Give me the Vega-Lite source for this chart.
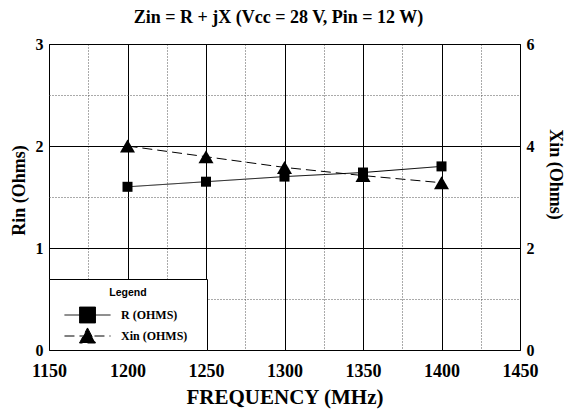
{
  "$schema": "https://vega.github.io/schema/vega-lite/v6.json",
  "autosize": {"type": "none"},
  "padding": {"left": 49, "top": 44, "right": 52, "bottom": 61},
  "width": 471,
  "height": 306,
  "background": "white",
  "title": {"text": "Zin = R + jX (Vcc = 28 V, Pin = 12 W)", "font": "Liberation Serif", "fontSize": 18, "fontWeight": "bold", "color": "black", "baseline": "alphabetic", "offset": 19, "dx": -6, "dy": 24, "anchor": "middle", "frame": "group"},
  "config": {
    "view": {"stroke": "black", "strokeWidth": 1},
    "axis": {"ticks": false, "tickSize": 0, "domain": false, "labelFont": "Liberation Serif", "labelFontWeight": "bold", "labelColor": "black", "titleFont": "Liberation Serif", "titleFontWeight": "bold", "titleColor": "black", "labelFlush": false, "labelOverlap": false},
    "legend": {"orient": "bottom-left", "offset": 0, "padding": 5,
      "fillColor": "white", "strokeColor": "black", "cornerRadius": 0,
      "titleFont": "Liberation Sans", "titleFontSize": 10.5, "titleFontWeight": "bold", "titleColor": "black", "titleAnchor": "middle", "titlePadding": 9, "titleLineHeight": 4,
      "labelFont": "Liberation Serif", "labelFontSize": 12, "labelFontWeight": "bold", "labelColor": "black",
      "symbolSize": 196, "symbolOffset": 26, "labelOffset": 26, "rowPadding": 0,
      "symbolStrokeWidth": 1, "symbolFillColor": "black", "symbolStrokeColor": "black"}
  },
  "data": {"values": [
    {"freq": 1200, "R": 1.60, "Xin": 4.00},
    {"freq": 1250, "R": 1.65, "Xin": 3.79},
    {"freq": 1300, "R": 1.70, "Xin": 3.58},
    {"freq": 1350, "R": 1.74, "Xin": 3.42},
    {"freq": 1400, "R": 1.80, "Xin": 3.28}
  ]},
  "encoding": {
    "x": {"field": "freq", "type": "quantitative", "scale": {"domain": [1150, 1450], "nice": false},
      "axis": {"values": [1150, 1175, 1200, 1225, 1250, 1275, 1300, 1325, 1350, 1375, 1400, 1425, 1450],
        "labelExpr": "datum.value % 50 === 0 ? format(datum.value, 'd') : ''", "labelFontSize": 18, "labelPadding": 12,
        "grid": true,
        "gridDash": {"condition": {"test": "datum.value % 50 !== 0", "value": [1, 2]}, "value": []},
        "gridColor": {"condition": {"test": "datum.value % 50 !== 0", "value": "#555555"}, "value": "black"},
        "title": "FREQUENCY (MHz)", "titleFontSize": 21, "titleBaseline": "alphabetic", "titleY": 53}}
  },
  "layer": [
    {
      "encoding": {"y": {"field": "R", "type": "quantitative", "scale": {"domain": [0, 3], "nice": false},
        "axis": {"values": [0, 0.5, 1, 1.5, 2, 2.5, 3], "labelExpr": "datum.value % 1 === 0 ? format(datum.value, 'd') : ''", "labelFontSize": 16, "labelPadding": 6,
          "grid": true,
          "gridDash": {"condition": {"test": "datum.value % 1 !== 0", "value": [1, 2]}, "value": []},
          "gridColor": {"condition": {"test": "datum.value % 1 !== 0", "value": "#555555"}, "value": "black"},
          "title": "Rin (Ohms)", "titleFontSize": 18, "titleAngle": -90, "titleBaseline": "alphabetic", "titleAlign": "center", "titleX": -25, "titleY": 146}}},
      "layer": [
        {"mark": {"type": "line", "color": "black", "strokeWidth": 1},
         "encoding": {"strokeDash": {"datum": "R (OHMS)", "type": "nominal",
           "scale": {"domain": ["R (OHMS)", "Xin (OHMS)"], "range": [[1, 0], [10, 5]]},
           "legend": {"title": ["", "Legend"],
             "encode": {"symbols": {"update": {
               "shape": {"signal": "datum.value === 'R (OHMS)' ? 'M-3.29,0H3.29M-1.14,-1.14H1.14V1.14H-1.14ZM15.94,0' : 'M-3.29,0H3.29M0,-1.15L1.14,1H-1.14ZM15.94,0'"},
               "fill": {"value": "black"}, "stroke": {"value": "black"}, "strokeWidth": {"value": 1}, "size": {"value": 196}, "opacity": {"value": 1}}}}}}}},
        {"mark": {"type": "point", "shape": "square", "filled": true, "color": "black", "opacity": 1, "size": 100}}
      ]
    },
    {
      "encoding": {"y": {"field": "Xin", "type": "quantitative", "scale": {"domain": [0, 6], "nice": false},
        "axis": {"orient": "right", "values": [0, 2, 4, 6], "labelFontSize": 16, "labelPadding": 6, "grid": false,
          "title": "Xin (Ohms)", "titleFontSize": 18, "titleAngle": 90, "titleBaseline": "alphabetic", "titleAlign": "center", "titleX": 29.5, "titleY": 130}}},
      "layer": [
        {"mark": {"type": "line", "color": "black", "strokeWidth": 1},
         "encoding": {"strokeDash": {"datum": "Xin (OHMS)", "type": "nominal",
           "scale": {"domain": ["R (OHMS)", "Xin (OHMS)"], "range": [[1, 0], [10, 5]]},
           "legend": {"title": ["", "Legend"],
             "encode": {"symbols": {"update": {
               "shape": {"signal": "datum.value === 'R (OHMS)' ? 'M-3.29,0H3.29M-1.14,-1.14H1.14V1.14H-1.14ZM15.94,0' : 'M-3.29,0H3.29M0,-1.15L1.14,1H-1.14ZM15.94,0'"},
               "fill": {"value": "black"}, "stroke": {"value": "black"}, "strokeWidth": {"value": 1}, "size": {"value": 196}, "opacity": {"value": 1}}}}}}}},
        {"mark": {"type": "point", "shape": "triangle-up", "filled": true, "color": "black", "opacity": 1, "size": 225}}
      ]
    }
  ],
  "resolve": {"scale": {"y": "independent"}}
}
